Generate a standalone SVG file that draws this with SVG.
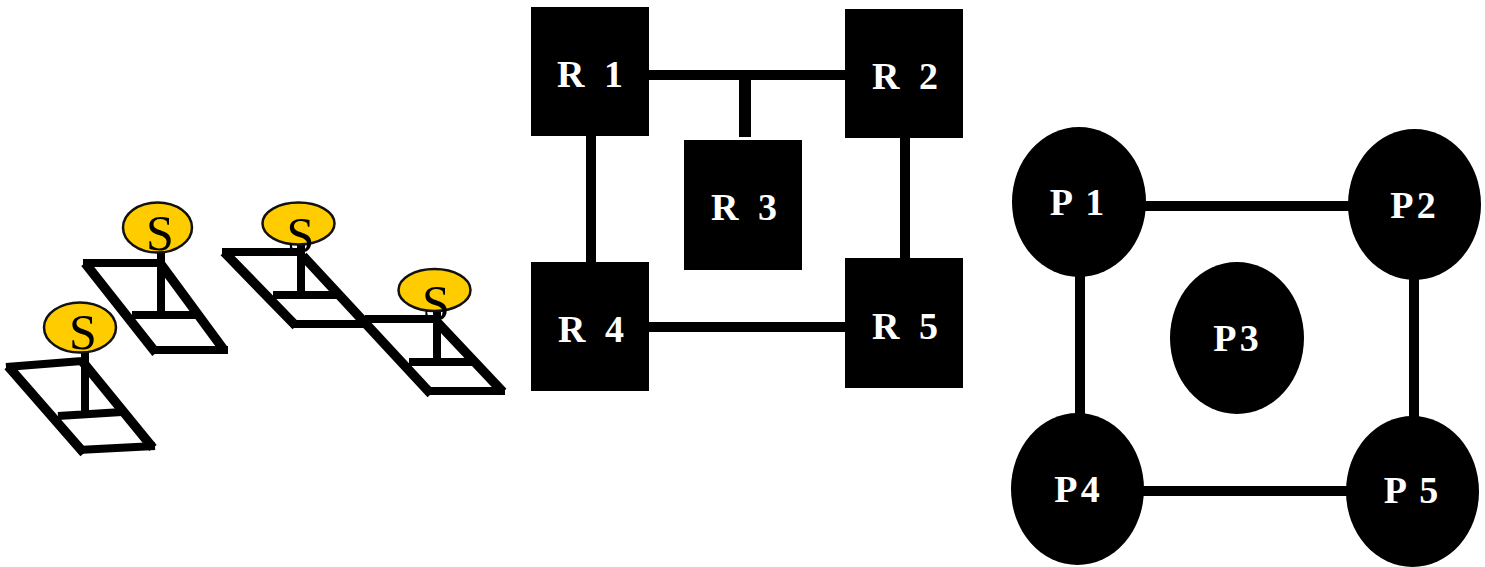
<svg xmlns="http://www.w3.org/2000/svg" width="1485" height="567" viewBox="0 0 1485 567">
<style>
.w{fill:none;stroke:#000;stroke-width:8;stroke-linejoin:miter;stroke-linecap:butt}
.d{stroke-width:9.500}
.t{stroke:#000;stroke-width:10;fill:none}
.b{stroke-width:12}
.s{fill:#ffcc00;stroke:#111;stroke-width:2.5}
.n{fill:#000}
text{font-family:"Liberation Serif","Times New Roman",serif;font-weight:bold;fill:#fff;text-anchor:middle}
.r{font-size:38px;word-spacing:10px}
.p{font-size:38px}
.w1{word-spacing:5px}
.w2{word-spacing:-4px}
.l{font-weight:normal;fill:#000;font-size:50px}
</style>
<rect width="1485" height="567" fill="#fff"/>
<g id="connectors">
<path class="t" d="M645 75H850M591 132V265M905 134V262M645 327H850"/>
<path class="t b" d="M745 75V137"/>
<path class="t" d="M1142 206H1352M1080 275V418M1414 278V420M1142 491H1350"/>
<path class="w" d="M83 263H160M228 350H152M132 315H198M161 250V318"/>
<path class="w d" d="M160 263L224 350M156 353L85 263"/>
<path class="w" d="M6 367L82 361M155 446L78 450M58 416L122 412M85 350V416"/>
<path class="w d" d="M82 361L153 448M84 453L8 366"/>
<path class="w" d="M222 252H300M291 324H365M425 391H505M365 319H437M273 295H338M301 243V298M437 309V365M409 362H473"/>
<path class="w d" d="M224 252L296 326M303 256L431 394M437 322L503 392"/>
</g>
<g id="S1"><ellipse class="s" cx="157.500" cy="227.500" rx="34.500" ry="25"/><text class="l" x="160" y="250">S</text></g>
<g id="S2"><ellipse class="s" cx="80" cy="327.500" rx="36" ry="25"/><text class="l" x="83" y="349">S</text></g>
<g id="S3"><ellipse class="s" cx="298.500" cy="223.500" rx="36" ry="21"/><text class="l" x="300.500" y="252">S</text></g>
<g id="S4"><ellipse class="s" cx="434.500" cy="290" rx="36" ry="21"/><text class="l" x="436" y="320">S</text></g>
<g id="R1"><rect class="n" x="531" y="7" width="118" height="129"/><text class="r" x="590" y="87">R 1</text></g>
<g id="R2"><rect class="n" x="845" y="9" width="118" height="129"/><text class="r" x="905" y="89">R 2</text></g>
<g id="R3"><rect class="n" x="684" y="140" width="118" height="130"/><text class="r" x="744" y="220">R 3</text></g>
<g id="R4"><rect class="n" x="531" y="262" width="118" height="129"/><text class="r" x="591" y="342">R 4</text></g>
<g id="R5"><rect class="n" x="845" y="258" width="118" height="130"/><text class="r" x="905" y="339">R 5</text></g>
<g id="P1"><ellipse class="n" cx="1079" cy="202" rx="67" ry="75"/><text class="p w1" x="1077" y="215">P 1</text></g>
<g id="P2"><ellipse class="n" cx="1414.500" cy="204.500" rx="66.500" ry="75.500"/><text class="p w2" x="1413" y="218">P 2</text></g>
<g id="P3"><ellipse class="n" cx="1237" cy="338" rx="67" ry="76"/><text class="p w2" x="1236" y="351">P 3</text></g>
<g id="P4"><ellipse class="n" cx="1077.500" cy="489" rx="66.500" ry="76"/><text class="p w2" x="1077" y="502">P 4</text></g>
<g id="P5"><ellipse class="n" cx="1412.500" cy="491.500" rx="66.500" ry="75.500"/><text class="p w1" x="1411" y="503">P 5</text></g>
</svg>
